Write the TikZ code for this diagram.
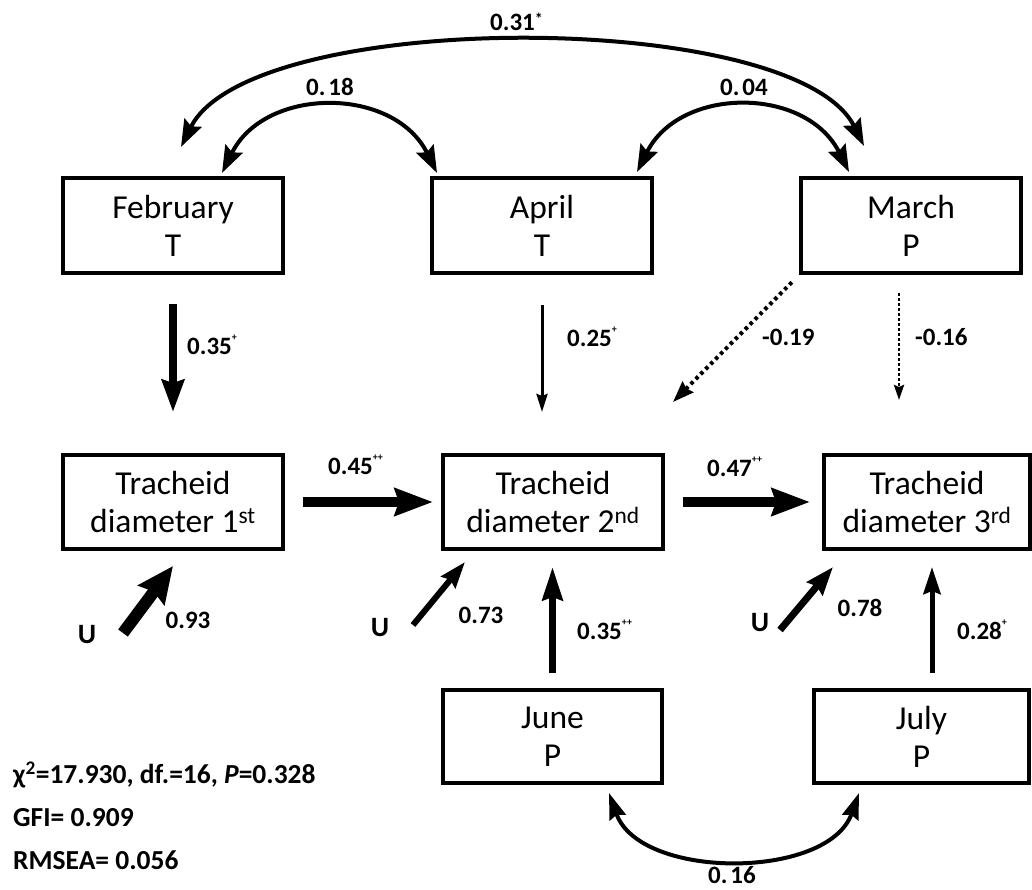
\documentclass[tikz,border=0pt]{standalone}
\usepackage{fontspec}
\setmainfont{Carlito}
\usetikzlibrary{arrows.meta}
\newcommand\sgn[1]{\raisebox{0.55em}{\fontsize{10}{10}\selectfont #1}}
\begin{document}
\begin{tikzpicture}[x=1pt,y=-1pt,
  box/.style={draw, line width=3.3pt, minimum width=220pt, minimum height=95pt,
    inner sep=0pt, outer sep=0pt, align=center, font=\fontsize{33.5}{38}\selectfont},
  lab/.style={font=\bfseries\fontsize{25}{30}\selectfont, inner sep=0pt},
  ulab/.style={font=\bfseries\fontsize{28}{30}\selectfont, inner sep=0pt},
  stat/.style={font=\bfseries\fontsize{27.5}{30}\selectfont, inner sep=0pt, anchor=west},
  arcarrow/.style={line width=4pt, {Stealth[length=27pt,width=19pt,inset=4pt]}-{Stealth[length=27pt,width=19pt,inset=4pt]}},
  botarc/.style={line width=4pt, {Stealth[length=26pt,width=17pt,inset=3pt]}-{Stealth[length=26pt,width=17pt,inset=3pt]}},
  arrFeb/.style={line width=8pt, -{Stealth[length=32pt,width=22pt,inset=3pt]}},
  arrApr/.style={line width=3pt, -{Stealth[length=18pt,width=11pt,inset=2pt]}},
  arrDotA/.style={line width=4pt, dash pattern=on 3.5pt off 3.5pt, -{Stealth[length=21pt,width=15pt,inset=2pt]}},
  arrDotB/.style={line width=2.8pt, dash pattern=on 2.5pt off 2.5pt, -{Stealth[length=15pt,width=10pt,inset=2pt]}},
  arrH/.style={line width=10pt, -{Stealth[length=38pt,width=27pt,inset=4pt]}},
  arrUa/.style={line width=12pt, -{Stealth[length=36pt,width=32pt,inset=4pt]}},
  arrUb/.style={line width=6pt, -{Stealth[length=26pt,width=18pt,inset=3pt]}},
  arrUc/.style={line width=7pt, -{Stealth[length=28pt,width=20pt,inset=3pt]}},
  arrJun/.style={line width=7pt, -{Stealth[length=33pt,width=20pt,inset=3pt]}},
  arrJul/.style={line width=5pt, -{Stealth[length=27pt,width=17pt,inset=3pt]}}
]
\useasboundingbox (0,0) rectangle (1032,890);

% boxes
\node[box] (feb) at (173,225.5) {February\\T};
\node[box] (apr) at (542,225.5) {April\\T};
\node[box] (mar) at (911,225.5) {March\\P};
\node[box,minimum height=94pt] (tr1) at (173,502) {Tracheid\\diameter 1\textsuperscript{st}};
\node[box,minimum height=94pt] (tr2) at (553,502) {Tracheid\\diameter 2\textsuperscript{nd}};
\node[box,minimum height=94pt,minimum width=206pt] (tr3) at (927,502) {Tracheid\\diameter 3\textsuperscript{rd}};
\node[box,minimum height=93pt,minimum width=219pt] (jun) at (552.5,736.5) {June\\P};
\node[box,minimum height=93pt,minimum width=215pt] (jul) at (921.5,736.5) {July\\P};

% vertical arrows from the top row
\draw[arrFeb, shorten <=31pt, shorten >=43pt] (feb.south) -- (tr1.north);
\draw[arrApr, shorten <=32pt, shorten >=43pt] (apr.south) -- (apr.south |- tr2.north);
\coordinate (d19) at (673,402);
\draw[arrDotA, shorten <=13pt] (mar.south west) -- (d19);
\draw[arrDotB, shorten <=20pt, shorten >=55pt] ([xshift=-12pt]mar.south) -- ([xshift=-12pt]mar.south |- tr3.north);

% horizontal arrows
\draw[arrH, shorten <=20pt, shorten >=10pt] (tr1.east) -- (tr2.west);
\draw[arrH, shorten <=20pt, shorten >=14pt] (tr2.east) -- (tr3.west);

% error terms
\node[ulab] (u1) at (87,635) {U};
\node[ulab] (u2) at (380,628) {U};
\node[ulab] (u3) at (760,623) {U};
\coordinate (u1s) at (123,633); \coordinate (u1e) at (173,566);
\coordinate (u2s) at (413,625); \coordinate (u2e) at (465,562);
\coordinate (u3s) at (780,630); \coordinate (u3e) at (833,567);
\draw[arrUa] (u1s) -- (u1e);
\draw[arrUb] (u2s) -- (u2e);
\draw[arrUc] (u3s) -- (u3e);

% bottom row arrows
\draw[arrJun, shorten <=17pt, shorten >=18pt] (jun.north) -- (jun.north |- tr2.south);
\draw[arrJul, shorten <=17pt, shorten >=18pt] ([xshift=10.5pt]jul.north) -- ([xshift=10.5pt]jul.north |- tr3.south);

% covariance arcs
\coordinate (a31l) at (181,147); \coordinate (a31r) at (864,146);
\coordinate (a18l) at (222,173); \coordinate (a18r) at (437,173);
\coordinate (a04l) at (637,172); \coordinate (a04r) at (849,172);
\coordinate (a16l) at (609,793); \coordinate (a16r) at (859,793);
\draw[arcarrow] (a31l) .. controls (250,8) and (795,8) .. (a31r);
\draw[arcarrow] (a18l) .. controls (265,86) and (394,86) .. (a18r);
\draw[arcarrow] (a04l) .. controls (680,86) and (806,86) .. (a04r);
\draw[botarc] (a16l) .. controls (640,880) and (828,880) .. (a16r);

% labels
\node[lab, anchor=west] (l31) at (490,22) {0.31\raisebox{0.25em}{\fontsize{16}{16}\selectfont *}};
\node[lab] (l18) at (330,87) {0.\hspace{0.12em}18};
\node[lab] (l04) at (744,87) {0.\hspace{0.12em}04};
\node[lab] (l16) at (732,875) {0.\hspace{0.12em}16};
\node[lab, anchor=west] (l35a) at (187,345) {0.35\sgn{+}};
\node[lab, anchor=west] (l25) at (567,337) {0.25\sgn{+}};
\node[lab, anchor=west] (l19) at (762,337) {-0.19};
\node[lab, anchor=west] (l16b) at (915,337) {-0.16};
\node[lab, anchor=west] (l45) at (328,465) {0.45\sgn{++}};
\node[lab, anchor=west] (l47) at (707,467) {0.47\sgn{++}};
\node[lab] (l93) at (188,620) {0.93};
\node[lab] (l73) at (481,615) {0.73};
\node[lab] (l78) at (860,608) {0.78};
\node[lab, anchor=west] (l35b) at (577,630) {0.35\sgn{++}};
\node[lab, anchor=west] (l28) at (957,630) {0.28\sgn{+}};

% fit statistics
\node[stat] (s1) at (13,775) {χ\textsuperscript{2}=17.930, df.=16, \textit{P}=0.328};
\node[stat] (s2) at (13,818) {GFI= 0.909};
\node[stat] (s3) at (13,860) {RMSEA= 0.056};
\end{tikzpicture}
\end{document}
